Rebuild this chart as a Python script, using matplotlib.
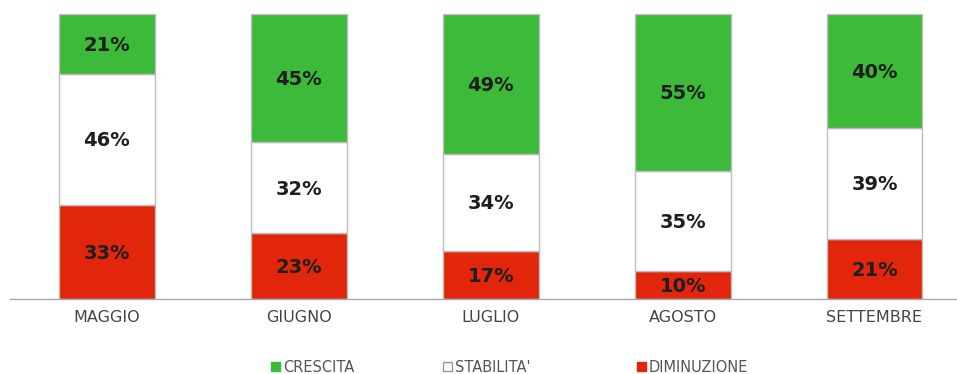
import matplotlib
matplotlib.use("Agg")
import matplotlib.pyplot as plt
import numpy as np
from matplotlib.patches import Patch

months = ["MAGGIO", "GIUGNO", "LUGLIO", "AGOSTO", "SETTEMBRE"]
diminuzione = [33, 23, 17, 10, 21]
stabilita = [46, 32, 34, 35, 39]
crescita = [21, 45, 49, 55, 40]
series_names = ["CRESCITA", "STABILITA'", "DIMINUZIONE"]

GREEN = "#3DBA3A"
RED = "#E2260B"
EDGE = "#BDBDBD"

fig = plt.figure(figsize=(9.57, 3.74), dpi=100)
W, H = 957, 374
ax = fig.add_axes([10 / W, 1 - 299 / H, 1 - 10 / W, (299 - 14) / H])

x = np.arange(len(months))
bw = 0.5
d = np.array(diminuzione)
s = np.array(stabilita)
c = np.array(crescita)

ax.bar(x, d, bw, color=RED, edgecolor=EDGE, linewidth=1.0, zorder=2)
ax.bar(x, s, bw, bottom=d, color="white", edgecolor=EDGE, linewidth=1.0, zorder=2)
ax.bar(x, c, bw, bottom=d + s, color=GREEN, edgecolor=EDGE, linewidth=1.0, zorder=2)

for i in range(len(months)):
    for val, base in ((d[i], 0), (s[i], d[i]), (c[i], d[i] + s[i])):
        ax.text(x[i], base + val / 2 - 0.5, f"{val}%", ha="center", va="center",
                fontsize=14, fontweight="bold", color="#1e1e1e", zorder=3)

ax.set_xlim(-0.505, 4.43)
ax.set_ylim(0, 100)
for sp in ["top", "right", "left"]:
    ax.spines[sp].set_visible(False)
ax.spines["bottom"].set_color("#AAAAAA")
ax.spines["bottom"].set_linewidth(1.0)
ax.set_yticks([])
ax.set_xticks(x)
ax.set_xticklabels(months, fontsize=11.5, color="#444444")
ax.tick_params(axis="x", length=0, pad=8)

handles = [Patch(facecolor=GREEN, edgecolor=GREEN),
           Patch(facecolor="white", edgecolor="#999999"),
           Patch(facecolor=RED, edgecolor=RED)]
legend_x = [271, 443, 637]
for h, name, lx in zip(handles, series_names, legend_x):
    leg = fig.legend([h], [name], loc="center left", bbox_to_anchor=(lx / W, 1 - 367 / H),
                     frameon=False, fontsize=10.5, handlelength=0.6, handleheight=0.6,
                     handletextpad=0.2, borderpad=0, borderaxespad=0,
                     labelcolor="#555555")

fig.savefig("out.png", dpi=100)
